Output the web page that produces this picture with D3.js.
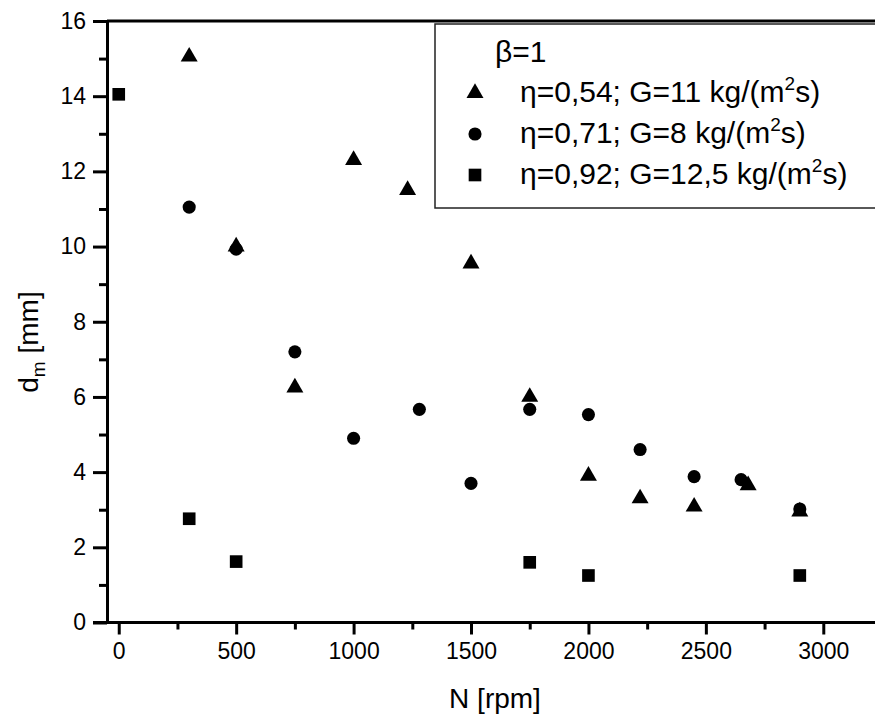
<!DOCTYPE html>
<html>
<head>
<meta charset="utf-8">
<script src="https://cdn.jsdelivr.net/npm/d3@7"></script>
<style>
  body { margin: 0; background: #fff; }
  svg text { font-family: "Liberation Sans", Arial, sans-serif; fill: #000; }
  .axis path, .axis line { stroke: #000; stroke-width: 3; }
  .axis text { font-size: 23px; fill: #000; }
</style>
</head>
<body>
<div id="chart"></div>
<script>
// Series: N [rpm] and d_m [mm]
const tri_N = [300, 500, 750, 1000, 1230, 1500, 1750, 2000, 2220, 2450, 2680, 2900];
const tri_d = [15.05, 10.0, 6.25, 12.3, 11.5, 9.55, 6.0, 3.9, 3.3, 3.08, 3.65, 2.95];

const circ_N = [300, 500, 750, 1000, 1280, 1500, 1750, 2000, 2220, 2450, 2650, 2900];
const circ_d = [11.05, 9.93, 7.2, 4.9, 5.67, 3.7, 5.67, 5.53, 4.6, 3.88, 3.8, 3.02];

const sq_N = [0, 300, 500, 1750, 2000, 2900];
const sq_d = [14.05, 2.76, 1.62, 1.6, 1.25, 1.25];

const xMajor = [0, 500, 1000, 1500, 2000, 2500, 3000];
const xMinor = [250, 750, 1250, 1750, 2250, 2750];
const yMajor = [0, 2, 4, 6, 8, 10, 12, 14, 16];
const yMinor = [1, 3, 5, 7, 9, 11, 13, 15];

const legendTitle = 'β=1';
const legendLabels = [
  { eta: '0,54', G: '11' },
  { eta: '0,71', G: '8' },
  { eta: '0,92', G: '12,5' }
];

const width = 875;
const height = 723;

const svg = d3.select('#chart')
  .append('svg')
  .attr('width', width)
  .attr('height', height);

const xScale = d3.scaleLinear()
  .domain([-50, 3250])
  .range([107, 882]);

const yScale = d3.scaleLinear()
  .domain([0, 16])
  .range([622.5, 21]);

// minor ticks first, major on top
svg.append('g')
  .attr('class', 'axis')
  .attr('transform', `translate(0, ${yScale(0)})`)
  .call(d3.axisBottom(xScale).tickValues(xMinor).tickSize(7).tickFormat(''))
  .call(g => g.select('.domain').remove());

svg.append('g')
  .attr('class', 'axis')
  .attr('transform', `translate(0, ${yScale(0)})`)
  .call(d3.axisBottom(xScale).tickValues(xMajor).tickFormat(d3.format('d'))
    .tickSizeInner(12).tickSizeOuter(0).tickPadding(8))
  .call(g => g.select('.domain').attr('d', `M${xScale(-50) - 14},0H${width}`));

svg.append('g')
  .attr('class', 'axis')
  .attr('transform', `translate(${xScale(-50)}, 0)`)
  .call(d3.axisLeft(yScale).tickValues(yMinor).tickSize(8).tickFormat(''))
  .call(g => g.select('.domain').remove());

svg.append('g')
  .attr('class', 'axis')
  .attr('transform', `translate(${xScale(-50)}, 0)`)
  .call(d3.axisLeft(yScale).tickValues(yMajor).tickSizeInner(14).tickSizeOuter(0).tickPadding(7));

// top frame line
svg.append('line')
  .attr('x1', xScale(-50))
  .attr('x2', width)
  .attr('y1', yScale(16))
  .attr('y2', yScale(16))
  .attr('stroke', '#000')
  .attr('stroke-width', 3);

// axis labels
svg.append('text')
  .attr('x', 495)
  .attr('y', 708)
  .attr('text-anchor', 'middle')
  .attr('font-size', '28px')
  .text('N [rpm]');

const yLabel = svg.append('text')
  .attr('transform', 'translate(38, 342) rotate(-90)')
  .attr('text-anchor', 'middle')
  .attr('font-size', '28px');
yLabel.append('tspan').text('d');
yLabel.append('tspan').attr('font-size', '19px').attr('dy', 7).text('m');
yLabel.append('tspan').attr('dy', -7).text(' [mm]');

// markers
const triangle = d3.symbol().type(d3.symbolTriangle).size(125);
const circle = d3.symbol().type(d3.symbolCircle).size(135);
const square = d3.symbol().type(d3.symbolSquare).size(160);

svg.selectAll('.sq')
  .data(sq_N.map((n, i) => ({ n, d: sq_d[i] })))
  .enter()
  .append('path')
  .attr('d', square)
  .attr('transform', d => `translate(${xScale(d.n)}, ${yScale(d.d)})`)
  .attr('fill', '#000');

svg.selectAll('.circ')
  .data(circ_N.map((n, i) => ({ n, d: circ_d[i] })))
  .enter()
  .append('path')
  .attr('d', circle)
  .attr('transform', d => `translate(${xScale(d.n)}, ${yScale(d.d)})`)
  .attr('fill', '#000');

svg.selectAll('.tri')
  .data(tri_N.map((n, i) => ({ n, d: tri_d[i] })))
  .enter()
  .append('path')
  .attr('d', triangle)
  .attr('transform', d => `translate(${xScale(d.n)}, ${yScale(d.d)})`)
  .attr('fill', '#000');

// legend
const legend = svg.append('g');

legend.append('rect')
  .attr('x', 435)
  .attr('y', 24)
  .attr('width', 480)
  .attr('height', 184)
  .attr('fill', '#fff')
  .attr('stroke', '#222')
  .attr('stroke-width', 1.5);

legend.append('text')
  .attr('x', 495)
  .attr('y', 62)
  .attr('font-size', '30px')
  .text(legendTitle);

const legendSymbols = [triangle, circle, square];
legendLabels.forEach((item, i) => {
  const cy = 93 + i * 41;
  legend.append('path')
    .attr('d', legendSymbols[i])
    .attr('transform', `translate(475, ${cy})`)
    .attr('fill', '#000');

  const t = legend.append('text')
    .attr('x', 520)
    .attr('y', cy + 9)
    .attr('font-size', '30px');
  t.append('tspan').text(`η=${item.eta}; G=${item.G} kg/(m`);
  t.append('tspan').attr('font-size', '19px').attr('dy', -12).text('2');
  t.append('tspan').attr('dy', 12).text('s)');
});
</script>
</body>
</html>
